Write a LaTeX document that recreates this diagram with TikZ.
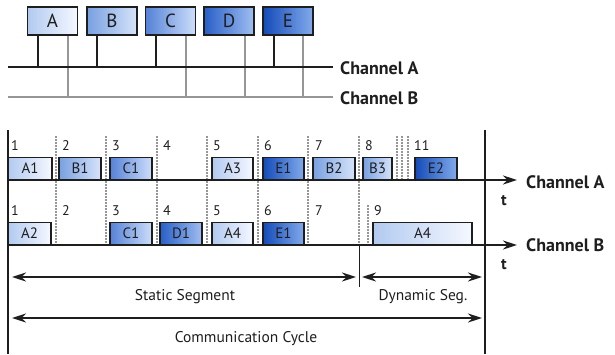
\documentclass[tikz,border=0pt]{standalone}
\usepackage{fontspec}
\setmainfont{PT Sans}
\usetikzlibrary{arrows.meta}
\definecolor{aL}{RGB}{178,202,240}\definecolor{aR}{RGB}{245,248,255}
\definecolor{bL}{RGB}{120,160,225}\definecolor{bR}{RGB}{215,228,250}
\definecolor{cL}{RGB}{85,130,215}\definecolor{cR}{RGB}{205,222,250}
\definecolor{dL}{RGB}{40,95,200}\definecolor{dR}{RGB}{160,190,240}
\definecolor{eL}{RGB}{20,75,185}\definecolor{eR}{RGB}{130,170,235}
\definecolor{txt}{RGB}{30,30,30}
\definecolor{gl}{RGB}{150,150,150}
\tikzset{
  topbox/.style={draw=txt,line width=1.3pt,minimum width=50pt,minimum height=28pt,inner sep=0pt,font=\fontsize{19}{19}\selectfont,text=txt},
  frm/.style={draw=txt,line width=1.2pt,minimum height=22pt,inner sep=0pt,anchor=south,font=\fontsize{15}{15}\selectfont,text=txt},
  fa/.style={frm,left color=aL,right color=aR},
  fb/.style={frm,left color=bL,right color=bR},
  fc/.style={frm,left color=cL,right color=cR},
  fd/.style={frm,left color=dL,right color=dR},
  fe/.style={frm,left color=eL,right color=eR},
  num/.style={anchor=west,inner sep=0pt,font=\fontsize{14}{14}\selectfont,text=txt},
  chlab/.style={anchor=west,inner sep=0pt,font=\bfseries\fontsize{18}{18}\selectfont,text=txt},
  tlab/.style={inner sep=0pt,font=\bfseries\fontsize{16}{16}\selectfont,text=txt},
  seglab/.style={inner sep=0pt,font=\fontsize{15.5}{15.5}\selectfont,text=txt},
  blk/.style={line width=2pt,draw=txt},
  gry/.style={line width=1.6pt,draw=gl},
  slot/.style={draw=gl,line width=1.1pt,dash pattern=on 2pt off 1pt},
  axis/.style={line width=2pt,draw=txt,-{Stealth[length=14pt,width=9pt]}},
  span/.style={line width=1.8pt,draw=txt,{Stealth[length=14pt,width=9pt]}-{Stealth[length=14pt,width=9pt]}}
}
\begin{document}
\begin{tikzpicture}[x=1pt,y=-1pt]
\useasboundingbox[fill=white] (0,0) rectangle (615,354);
% ---------- top: nodes and bus ----------
\node[topbox,left color=aL,right color=aR] (bA) at (52.5,21) {A};
\node[topbox,left color=bL,right color=bR] (bB) at (112,21) {B};
\node[topbox,left color=cL,right color=cR] (bC) at (170.5,21) {C};
\node[topbox,left color=dL,right color=dR] (bD) at (229,21) {D};
\node[topbox,left color=eL,right color=eR] (bE) at (288,21) {E};
\coordinate (busAl) at (8,67); \coordinate (busAr) at (333,67);
\coordinate (busBl) at (8,97); \coordinate (busBr) at (333,97);
\foreach \b/\x in {bA/68,bC/186,bD/245,bE/303}{
  \coordinate (g\b) at (\x,97);
  \draw[gry] (\b.south -| g\b) -- (g\b);
}
\draw[gry] (busBl) -- (busBr);
\foreach \b/\x in {bA/38,bB/97,bC/156,bE/274}{
  \coordinate (k\b) at (\x,67);
  \draw[blk] (\b.south -| k\b) -- (k\b);
}
\draw[blk] (busAl) -- (busAr);
\node[chlab] (lA) at (340,68) {Channel A};
\node[chlab] (lB) at (340,98) {Channel B};
% ---------- bottom: timeline ----------
\foreach \x in {56,106,157,207,258,308,359}{
  \coordinate (st\x) at (\x,136); \coordinate (sb\x) at (\x,245);
  \draw[slot] (st\x) -- (sb\x);
}
\foreach \x in {397,402,408}{
  \coordinate (xt\x) at (\x,136); \coordinate (xb\x) at (\x,180);
  \draw[slot] (xt\x) -- (xb\x);
}
\coordinate (yt) at (368,205); \coordinate (yb) at (368,245);
\draw[slot] (yt) -- (yb);
% channel A frames
\node[fa,minimum width=44pt] (A1) at (30,180) {A1};
\node[fb,minimum width=42pt] (B1) at (80,180) {B1};
\node[fc,minimum width=42pt] (C1a) at (131,180) {C1};
\node[fa,minimum width=41pt] (A3) at (232.5,180) {A3};
\node[fe,minimum width=41pt] (E1a) at (283.5,180) {E1};
\node[fb,minimum width=42pt] (B2) at (334,180) {B2};
\node[fb,minimum width=29pt] (B3) at (377.5,180) {B3};
\node[fe,minimum width=42pt] (E2) at (436,180) {E2};
% channel B frames
\node[fa,minimum width=43pt] (A2) at (29.5,245) {A2};
\node[fc,minimum width=42pt] (C1b) at (131,245) {C1};
\node[fd,minimum width=42pt] (D1) at (181,245) {D1};
\node[fa,minimum width=41pt] (A4a) at (232.5,245) {A4};
\node[fe,minimum width=41pt] (E1b) at (283.5,245) {E1};
\node[fa,minimum width=99pt] (A4b) at (422.5,245) {A4};
% slot numbers
\foreach \n/\x in {1/11,2/62,3/112,4/163,5/213,6/264,7/315,8/365,11/414}{
  \node[num] (na\n) at (\x,146) {\n};
}
\foreach \n/\x in {1/11,2/62,3/112,4/163,5/213,6/264,7/315,9/374}{
  \node[num] (nb\n) at (\x,211) {\n};
}
% axes
\coordinate (aAl) at (8,180); \coordinate (aAr) at (517,180);
\coordinate (aBl) at (8,245); \coordinate (aBr) at (517,245);
\draw[axis] (aAl) -- (aAr);
\draw[axis] (aBl) -- (aBr);
\node[chlab] (cA) at (526,182) {Channel A};
\node[chlab] (cB) at (526,245) {Channel B};
\node[tlab] (tA) at (504,201) {t};
\node[tlab] (tB) at (504,265) {t};
% cycle borders
\coordinate (L1) at (8,130); \coordinate (L2) at (8,354);
\coordinate (R1) at (485,130); \coordinate (R2) at (485,354);
\draw[line width=2.4pt,draw=txt] (L1) -- (L2);
\draw[line width=2.4pt,draw=txt] (R1) -- (R2);
% segment separator
\coordinate (s1) at (359,245); \coordinate (s2) at (359,287);
\draw[line width=1pt,draw=txt] (s1) -- (s2);
% spans
\coordinate (ss1) at (12,277); \coordinate (ss2) at (356,277);
\coordinate (ds1) at (362,277); \coordinate (ds2) at (482,277);
\coordinate (cc1) at (12,318); \coordinate (cc2) at (482,318);
\draw[span] (ss1) -- (ss2);
\draw[span] (ds1) -- (ds2);
\draw[span] (cc1) -- (cc2);
\node[seglab] (lss) at (185,297) {Static Segment};
\node[seglab] (lds) at (423,297) {Dynamic Seg.};
\node[seglab] (lcc) at (246,339) {Communication Cycle};
\end{tikzpicture}
\end{document}
